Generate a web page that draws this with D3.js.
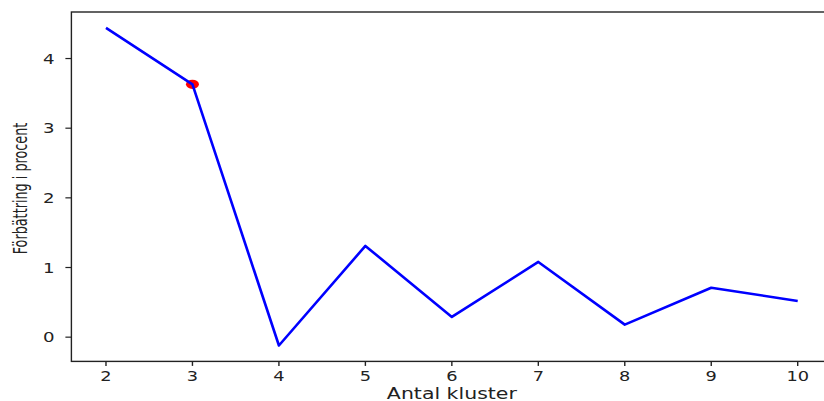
<!DOCTYPE html>
<html>
<head>
<meta charset="utf-8">
<script src="https://cdn.jsdelivr.net/npm/d3@7"></script>
<style>
  body { margin: 0; background: #fff; }
  text { font-family: "DejaVu Sans", sans-serif; fill: #222; }
</style>
</head>
<body>
<svg id="chart" width="824" height="401"></svg>
<script>
// data
var clusters = [2, 3, 4, 5, 6, 7, 8, 9, 10];
var improvement = [4.44, 3.63, -0.12, 1.31, 0.29, 1.08, 0.18, 0.71, 0.52];
var chosen = [3, 3.63];
var xTicks = [2, 3, 4, 5, 6, 7, 8, 9, 10];
var yTicks = [0, 1, 2, 3, 4];
var xTitle = "Antal kluster";
var yTitle = "Förbättring i procent";

var svg = d3.select("#chart");
// plot box (window.top is taken, so named differently)
var pLeft = 71.4, pRight = 832.3, pTop = 12, pBottom = 361.4;
var stretch = 1.28; // the picture is wider than it is tall

// matplotlib style 5% margins
var xe = d3.extent(clusters), ye = d3.extent(improvement);
var xm = (xe[1] - xe[0]) * 0.05, ym = (ye[1] - ye[0]) * 0.05;
var x = d3.scaleLinear().domain([xe[0] - xm, xe[1] + xm]).range([pLeft, pRight]);
var y = d3.scaleLinear().domain([ye[0] - ym, ye[1] + ym]).range([pBottom, pTop]);

// red dot first, line goes over it
svg.append("ellipse")
  .attr("cx", x(chosen[0]))
  .attr("cy", y(chosen[1]))
  .attr("rx", 6.5)
  .attr("ry", 4.6)
  .attr("fill", "#ff0000");

var line = d3.line()
  .x(function(d, i) { return x(clusters[i]); })
  .y(function(d) { return y(d); });

svg.append("path")
  .datum(improvement)
  .attr("d", line)
  .attr("fill", "none")
  .attr("stroke", "#0000ff")
  .attr("stroke-width", 2.6)
  .attr("stroke-linejoin", "round");

// spines
svg.append("rect")
  .attr("x", pLeft).attr("y", pTop)
  .attr("width", pRight - pLeft).attr("height", pBottom - pTop)
  .attr("fill", "none")
  .attr("stroke", "#222")
  .attr("stroke-width", 1.4);

// x ticks
var xg = svg.append("g");
xTicks.forEach(function(t) {
  xg.append("line")
    .attr("x1", x(t)).attr("x2", x(t))
    .attr("y1", pBottom).attr("y2", pBottom + 4.5)
    .attr("stroke", "#222").attr("stroke-width", 1.4);
  xg.append("text")
    .attr("transform", "translate(" + x(t) + "," + 381 + ") scale(" + stretch + ",1)")
    .attr("text-anchor", "middle")
    .attr("font-size", 13.9)
    .text(t);
});

// y ticks
var yg = svg.append("g");
yTicks.forEach(function(t) {
  yg.append("line")
    .attr("x1", pLeft - 6).attr("x2", pLeft)
    .attr("y1", y(t)).attr("y2", y(t))
    .attr("stroke", "#222").attr("stroke-width", 1.2);
  yg.append("text")
    .attr("transform", "translate(" + 54.5 + "," + (y(t) + 5) + ") scale(" + stretch + ",1)")
    .attr("text-anchor", "end")
    .attr("font-size", 14.2)
    .text(t);
});

// axis titles
svg.append("text")
  .attr("transform", "translate(" + ((pLeft + pRight) / 2) + "," + 398.6 + ") scale(1.33,1)")
  .attr("text-anchor", "middle")
  .attr("font-size", 15.4)
  .text(xTitle);

svg.append("text")
  .attr("transform", "translate(" + 26.5 + "," + 188.5 + ") scale(1.45,1) rotate(-90)")
  .attr("text-anchor", "middle")
  .attr("font-size", 12.8)
  .text(yTitle);
</script>
</body>
</html>
